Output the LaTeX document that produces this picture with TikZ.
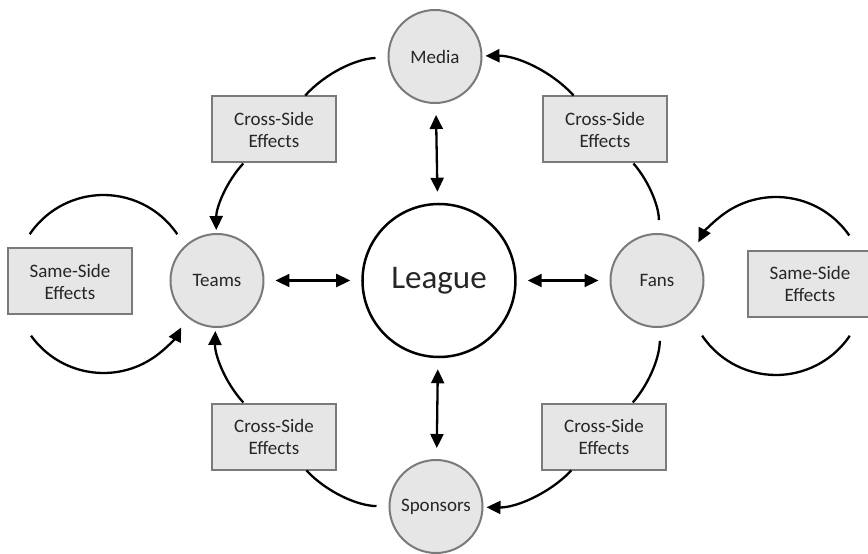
\documentclass[tikz,border=0pt]{standalone}
\usepackage{fontspec}
\setmainfont{Carlito}
\usetikzlibrary{arrows.meta}
\definecolor{nodefill}{HTML}{E6E6E6}
\definecolor{nodeline}{HTML}{7A7A7A}
\definecolor{ink}{HTML}{262626}
\tikzset{
    party/.style={circle, draw=nodeline, fill=nodefill, line width=2pt, minimum size=93pt, inner sep=0pt, text=ink, font=\fontsize{19}{22}\selectfont},
    effect/.style={rectangle, draw=nodeline, fill=nodefill, line width=2pt, minimum width=124pt, minimum height=66pt, inner sep=0pt, align=center, text=ink, font=\fontsize{19}{22}\selectfont},
    link/.style={line width=2.3pt, {Triangle[length=14pt,width=13pt]}-{Triangle[length=14pt,width=13pt]}, shorten <=11pt, shorten >=11pt},
    flow/.style={line width=2.3pt},
    hit/.style={-{Triangle[length=14pt,width=13pt]}, shorten >=3pt},
}

\begin{document}
\begin{tikzpicture}[x=1pt, y=1pt]
    \useasboundingbox (-439,-273.5) rectangle (429,280.5);

    \node[circle, draw, line width=2.5pt, minimum size=153pt, fill=white, text=ink, font=\fontsize{33}{36}\selectfont] (league) at (0,0) {League};
	\node[party] (media) at (-4,224) {Media};
	\node[party] (teams) at (-222,0) {Teams};
	\node[party] (fans) at (218,0) {Fans};
	\node[party] (sponsors) at (-3,-226) {Sponsors};

	\node[effect] (crosstl) at (-165,151) {Cross-Side\\Effects};
	\node[effect] (crosstr) at (166,151) {Cross-Side\\Effects};
	\node[effect] (crossbl) at (-165,-156) {Cross-Side\\Effects};
	\node[effect] (crossbr) at (165,-156) {Cross-Side\\Effects};
	\node[effect] (sameleft) at (-369,-1) {Same-Side\\Effects};
	\node[effect] (sameright) at (371,-3.5) {Same-Side\\Effects};

	\foreach \p in {media,teams,fans,sponsors}
	    \draw[link] (league) -- (\p);

	\draw[flow, shorten <=12pt] (media) to[bend right=23, looseness=0.87] (crosstl);
	\draw[flow, hit] (crosstl) to[bend right=21.5, looseness=0.87] (teams);
	\draw[flow, shorten <=13pt] (fans) to[bend right=21, looseness=0.87] (crosstr);
	\draw[flow, hit] (crosstr) to[bend right=24, looseness=0.87] (media);
	\draw[flow, shorten <=12pt] (sponsors) to[bend left=23, looseness=0.87] (crossbl);
	\draw[flow, hit] (crossbl) to[bend left=22, looseness=0.87] (teams);
	\draw[flow, shorten <=13pt] (fans) to[bend left=21.5, looseness=0.87] (crossbr);
	\draw[flow, hit] (crossbr) to[bend left=23.5, looseness=0.87] (sponsors);

	\coordinate (loopleft) at (-335.5,-3.5);
	\coordinate (loopright) at (337,-5.5);
	\draw[flow] (loopleft) ++(34:89) arc[start angle=34, end angle=146, radius=89];
	\draw[flow, hit] (loopleft) ++(215.5:89) arc[start angle=215.5, end angle=332.7, radius=89];
	\draw[flow, hit] (loopright) ++(34.6:89) arc[start angle=34.6, end angle=152.6, radius=89];
	\draw[flow] (loopright) ++(213.9:89) arc[start angle=213.9, end angle=326, radius=89];
\end{tikzpicture}
\end{document}
